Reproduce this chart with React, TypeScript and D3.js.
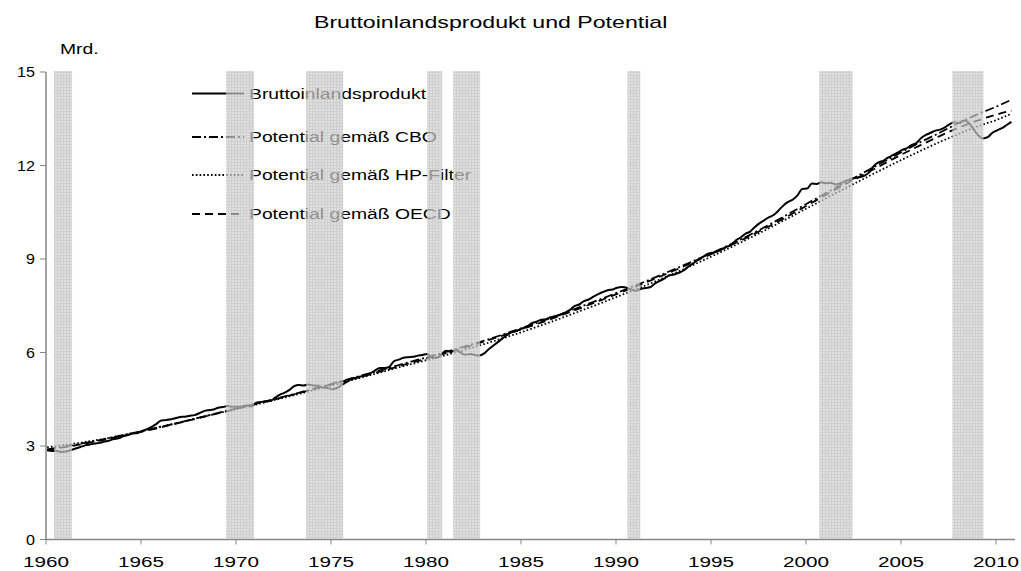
import React, { useEffect, useRef } from "react";
import * as d3 from "d3";

const chartTitle = "Bruttoinlandsprodukt und Potential";
const unitLabel = "Mrd.";
const xTicks = [1960, 1965, 1970, 1975, 1980, 1985, 1990, 1995, 2000, 2005, 2010];
const yTicks = [0, 3, 6, 9, 12, 15];

// real GDP, one row per year 1960..2010, four quarters each
const gdpYears = d3.range(1960, 2011);
const gdpQuarterly = [
  [2.86, 2.84, 2.84, 2.81], [2.82, 2.87, 2.92, 2.97], [3.02, 3.05, 3.08, 3.1], [3.14, 3.17, 3.22, 3.25],
  [3.31, 3.35, 3.4, 3.42], [3.48, 3.54, 3.61, 3.71], [3.82, 3.83, 3.86, 3.89], [3.93, 3.94, 3.97, 3.99],
  [4.05, 4.12, 4.15, 4.17], [4.23, 4.25, 4.28, 4.26], [4.26, 4.27, 4.3, 4.27], [4.39, 4.41, 4.44, 4.45],
  [4.55, 4.65, 4.71, 4.8], [4.92, 4.96, 4.94, 4.97], [4.94, 4.93, 4.88, 4.86], [4.82, 4.86, 4.96, 5.05],
  [5.15, 5.19, 5.23, 5.27], [5.33, 5.42, 5.5, 5.5], [5.54, 5.72, 5.77, 5.83], [5.85, 5.86, 5.9, 5.92],
  [5.95, 5.84, 5.83, 5.94], [6.06, 6.02, 6.08, 6.0], [5.93, 5.95, 5.92, 5.9], [5.97, 6.11, 6.23, 6.35],
  [6.47, 6.58, 6.66, 6.71], [6.77, 6.83, 6.94, 6.99], [7.05, 7.07, 7.13, 7.17], [7.21, 7.28, 7.36, 7.49],
  [7.54, 7.65, 7.7, 7.79], [7.87, 7.94, 8.0, 8.02], [8.08, 8.1, 8.08, 8.02], [7.98, 8.04, 8.07, 8.1],
  [8.22, 8.3, 8.38, 8.48], [8.5, 8.56, 8.63, 8.76], [8.86, 8.98, 9.06, 9.16], [9.2, 9.23, 9.31, 9.39],
  [9.45, 9.6, 9.69, 9.81], [9.88, 10.03, 10.15, 10.25], [10.34, 10.42, 10.56, 10.72], [10.83, 10.91, 11.05, 11.25],
  [11.26, 11.42, 11.41, 11.46], [11.43, 11.45, 11.39, 11.43], [11.5, 11.55, 11.6, 11.62], [11.67, 11.77, 11.98, 12.1],
  [12.15, 12.25, 12.33, 12.41], [12.5, 12.56, 12.66, 12.72], [12.88, 12.98, 13.05, 13.12], [13.15, 13.22, 13.33, 13.39],
  [13.36, 13.44, 13.37, 13.17], [12.97, 12.87, 12.91, 13.05], [13.13, 13.2, 13.3, 13.4],
];

// potential estimates, yearly (last point = 2010 Q4)
const potentialYears = [...d3.range(1960, 2011), 2010.75];
const cboPotential = [
  2.89, 2.99, 3.1, 3.22, 3.35, 3.48, 3.62, 3.76, 3.91, 4.06,
  4.21, 4.36, 4.51, 4.67, 4.83, 5.0, 5.17, 5.34, 5.51, 5.68,
  5.85, 6.02, 6.2, 6.38, 6.58, 6.79, 7.0, 7.22, 7.45, 7.68,
  7.92, 8.16, 8.41, 8.67, 8.93, 9.2, 9.48, 9.78, 10.1, 10.44,
  10.78, 11.12, 11.45, 11.78, 12.11, 12.44, 12.76, 13.06, 13.37, 13.65, 13.9, 14.11,
];
const hpPotential = [
  2.96, 3.04, 3.13, 3.23, 3.35, 3.48, 3.62, 3.76, 3.91, 4.05,
  4.19, 4.33, 4.48, 4.63, 4.79, 4.95, 5.11, 5.27, 5.44, 5.6,
  5.76, 5.92, 6.09, 6.27, 6.46, 6.66, 6.87, 7.09, 7.32, 7.55,
  7.79, 8.03, 8.28, 8.54, 8.81, 9.09, 9.38, 9.68, 9.99, 10.31,
  10.63, 10.95, 11.27, 11.58, 11.89, 12.19, 12.48, 12.76, 13.02, 13.26, 13.47, 13.66,
];
const oecdPotential = [
  2.87, 2.97, 3.08, 3.2, 3.33, 3.46, 3.6, 3.75, 3.9, 4.05,
  4.2, 4.35, 4.5, 4.66, 4.82, 4.98, 5.14, 5.3, 5.47, 5.64,
  5.81, 5.98, 6.16, 6.35, 6.55, 6.75, 6.96, 7.18, 7.41, 7.64,
  7.88, 8.12, 8.37, 8.63, 8.9, 9.17, 9.45, 9.74, 10.05, 10.38,
  10.72, 11.06, 11.4, 11.72, 12.04, 12.36, 12.66, 12.95, 13.22, 13.45, 13.64, 13.76,
];

// recession periods (shaded)
const recessionStart = [1960.42, 1969.48, 1973.69, 1980.06, 1981.43, 1990.6, 2000.7, 2007.7];
const recessionEnd = [1961.37, 1970.95, 1975.64, 1980.85, 1982.85, 1991.28, 2002.45, 2009.34];

const seriesNames = [
  "Bruttoinlandsprodukt",
  "Potential gemäß CBO",
  "Potential gemäß HP-Filter",
  "Potential gemäß OECD",
];
const seriesDash = [null, "9,3,2,3", "1.6,2.2", "8,5"];

const W = 1021;
const H = 571;
const STRETCH = 1.38;
const FONT = "'Liberation Sans', Arial, sans-serif";

export default function App() {
  const ref = useRef<SVGSVGElement | null>(null);

  useEffect(() => {
    const svg = d3.select(ref.current);
    svg.selectAll("*").remove();

    const x = d3.scaleLinear().domain([1960, 2010]).range([46, 996]);
    const y = d3.scaleLinear().domain([0, 15]).range([539.5, 72]);

    const gdp: [number, number][] = [];
    gdpQuarterly.forEach((row, i) =>
      row.forEach((v, q) => gdp.push([gdpYears[i] + (q + 0.25) / 4, v]))
    );
    const pot = (vals: number[]) =>
      vals.map((v, i) => [potentialYears[i] + 0.06, v] as [number, number]);

    const series = [gdp, pot(cboPotential), pot(hpPotential), pot(oecdPotential)];

    const text = (
      g: any,
      tx: number,
      ty: number,
      s: string,
      size: number,
      anchor = "start",
      sx = STRETCH
    ) =>
      g
        .append("text")
        .attr("transform", `translate(${tx},${ty}) scale(${sx},1)`)
        .attr("text-anchor", anchor)
        .attr("font-family", FONT)
        .attr("font-size", size)
        .attr("fill", "#000")
        .text(s);

    // grid pattern for recession bands
    const pat = svg
      .append("defs")
      .append("pattern")
      .attr("id", "band")
      .attr("patternUnits", "userSpaceOnUse")
      .attr("width", 3)
      .attr("height", 3);
    pat.append("rect").attr("width", 3).attr("height", 3).attr("fill", "#d2d2d2");
    pat
      .append("path")
      .attr("d", "M0 0.5H3M0.5 0V3")
      .attr("stroke", "#bcbcbc")
      .attr("stroke-width", 1);

    text(svg, 314, 28, chartTitle, 17, "start", 1.36);
    text(svg, 60, 54, unitLabel, 14);

    // legend
    const rowY = [93.5, 137, 175, 214];
    const lg = svg.append("g");
    seriesNames.forEach((name, i) => {
      lg.append("line")
        .attr("x1", 192)
        .attr("x2", 244)
        .attr("y1", rowY[i])
        .attr("y2", rowY[i])
        .attr("stroke", "#000")
        .attr("stroke-width", i === 0 ? 2 : 1.8)
        .attr("stroke-dasharray", seriesDash[i]);
      text(lg, 249, rowY[i] + 5, name, 14);
    });

    // lines
    const line = d3
      .line<[number, number]>()
      .x((d) => x(d[0]))
      .y((d) => y(d[1]))
      .curve(d3.curveMonotoneX);

    series.forEach((data, i) => {
      svg
        .append("path")
        .datum(data)
        .attr("d", line)
        .attr("fill", "none")
        .attr("stroke", "#000")
        .attr("stroke-width", i === 0 ? 2 : 1.8)
        .attr("stroke-dasharray", seriesDash[i]);
    });

    // recession bands over the lines
    svg
      .append("g")
      .selectAll("rect")
      .data(recessionStart)
      .join("rect")
      .attr("x", (d) => x(d))
      .attr("width", (d, i) => x(recessionEnd[i]) - x(d))
      .attr("y", y(15) - 1)
      .attr("height", y(0) - y(15))
      .attr("fill", "url(#band)")
      .attr("opacity", 0.72);

    // axes
    const axisColor = "#868686";
    const ax = svg.append("g");
    ax.append("line")
      .attr("x1", x(1960))
      .attr("x2", 1015)
      .attr("y1", y(0))
      .attr("y2", y(0))
      .attr("stroke", axisColor)
      .attr("stroke-width", 1.5);
    ax.append("line")
      .attr("x1", x(1960))
      .attr("x2", x(1960))
      .attr("y1", y(0))
      .attr("y2", y(15))
      .attr("stroke", axisColor)
      .attr("stroke-width", 1.5);

    xTicks.forEach((t) => {
      ax.append("line")
        .attr("x1", x(t))
        .attr("x2", x(t))
        .attr("y1", y(0))
        .attr("y2", y(0) + 5)
        .attr("stroke", axisColor);
      text(ax, x(t), 567, String(t), 15, "middle");
    });
    yTicks.forEach((t) => {
      ax.append("line")
        .attr("x1", x(1960) - 6)
        .attr("x2", x(1960))
        .attr("y1", y(t))
        .attr("y2", y(t))
        .attr("stroke", axisColor);
      text(ax, 35, y(t) + 5.2, String(t), 14, "end", 1.15);
    });
  }, []);

  return (
    <svg
      ref={ref}
      width={W}
      height={H}
      style={{ position: "absolute", left: 0, top: 0, background: "#fff" }}
    />
  );
}
